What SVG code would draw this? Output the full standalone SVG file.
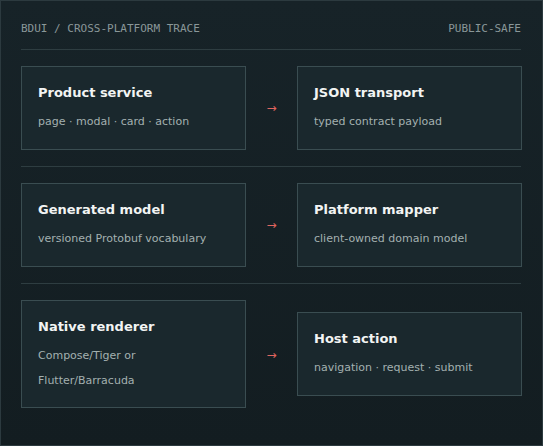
<svg xmlns="http://www.w3.org/2000/svg" width="543" height="446" viewBox="0 0 543 446">
<defs>
<linearGradient id="bg" x1="0" y1="0" x2="0" y2="1">
<stop offset="0" stop-color="#172328"/>
<stop offset="1" stop-color="#131d21"/>
</linearGradient>
<style>
.hdr{font-family:"DejaVu Sans Mono","Liberation Mono",monospace;font-size:11px;fill:#8a9799}
.div{stroke:#2e3d41;stroke-width:1}
.box{fill:#1a282d;stroke:#3a4d51;stroke-width:1}
.t{font-family:"DejaVu Sans","Noto Sans",sans-serif;font-size:13px;font-weight:bold;fill:#f2f4f3}
.s{font-family:"DejaVu Sans","Noto Sans",sans-serif;font-size:11px;fill:#a3b0b0}
.arr{font-family:"DejaVu Sans",sans-serif;font-size:12px;fill:#e0655f;text-anchor:middle}
</style>
</defs>
<rect x="0.5" y="0.5" width="542" height="445" fill="url(#bg)" stroke="#2c3a3f"/>
<text class="hdr" x="21" y="32">BDUI / CROSS-PLATFORM TRACE</text>
<text class="hdr" x="521" y="32" text-anchor="end">PUBLIC-SAFE</text>
<line class="div" x1="21" y1="49.5" x2="521" y2="49.5"/>
<line class="div" x1="21" y1="166.5" x2="521" y2="166.5"/>
<line class="div" x1="21" y1="283.5" x2="521" y2="283.5"/>
<g id="product-service">
<rect class="box" x="21.5" y="66.5" width="224" height="83"/>
<text class="t" x="38" y="97">Product service</text>
<text class="s" x="38" y="125">page · modal · card · action</text>
</g>
<g id="json-transport">
<rect class="box" x="297.5" y="66.5" width="224" height="83"/>
<text class="t" x="314" y="97">JSON transport</text>
<text class="s" x="314" y="125">typed contract payload</text>
</g>
<g id="generated-model">
<rect class="box" x="21.5" y="183.5" width="224" height="83"/>
<text class="t" x="38" y="214">Generated model</text>
<text class="s" x="38" y="242">versioned Protobuf vocabulary</text>
</g>
<g id="platform-mapper">
<rect class="box" x="297.5" y="183.5" width="224" height="83"/>
<text class="t" x="314" y="214">Platform mapper</text>
<text class="s" x="314" y="242">client-owned domain model</text>
</g>
<g id="native-renderer">
<rect class="box" x="21.5" y="300.5" width="224" height="107"/>
<text class="t" x="38" y="331">Native renderer</text>
<text class="s" x="38" y="359">Compose/Tiger or</text>
<text class="s" x="38" y="384">Flutter/Barracuda</text>
</g>
<g id="host-action">
<rect class="box" x="297.5" y="312.5" width="224" height="83"/>
<text class="t" x="314" y="343">Host action</text>
<text class="s" x="314" y="371">navigation · request · submit</text>
</g>
<g id="connectors">
<text class="arr" x="271.5" y="112">→</text>
<text class="arr" x="271.5" y="229">→</text>
<text class="arr" x="271.5" y="359">→</text>
</g>
</svg>
